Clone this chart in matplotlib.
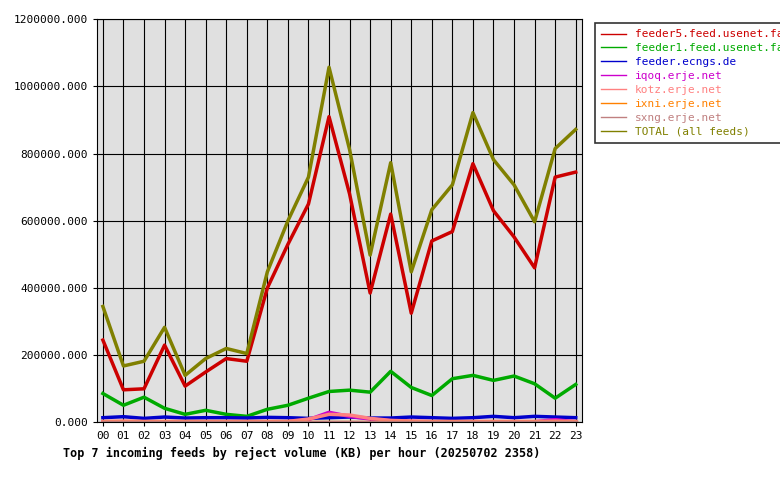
import numpy as np
import matplotlib.pyplot as plt
from matplotlib.ticker import FuncFormatter

hours = ["%02d" % h for h in range(24)]

feeder5 = [245, 97, 100, 230, 108, 150, 190, 182, 400, 530, 650, 910,
           680, 385, 620, 325, 540, 568, 770, 630, 552, 460, 730, 745]
feeder1 = [86, 51, 75, 42, 24, 36, 24, 18, 39, 51, 72, 92,
           96, 90, 152, 104, 80, 130, 140, 125, 138, 115, 72, 113]
ecngs = [14, 17, 12, 16, 13, 14, 14, 13, 15, 14, 12, 14,
         16, 13, 13, 16, 14, 12, 14, 18, 14, 18, 16, 14]
iqoq = [2, 2, 2, 2, 2, 2, 2, 2, 2, 2, 8, 30, 18, 10, 5, 3, 2, 2, 2, 2, 2, 2, 8, 2]
kotz = [3, 4, 3, 3, 3, 3, 3, 3, 3, 3, 10, 24, 22, 12, 6, 4, 3, 3, 3, 3, 3, 3, 4, 3]
ixni = [1] * 24
sxng = [2] * 24
total = [345, 168, 182, 283, 140, 190, 220, 205, 448, 600, 730, 1057,
         812, 498, 773, 448, 633, 707, 922, 782, 707, 597, 815, 872]

series = [
    ("feeder5.feed.usenet.farm", feeder5, "#cc0000"),
    ("feeder1.feed.usenet.farm", feeder1, "#00aa00"),
    ("feeder.ecngs.de", ecngs, "#0000cc"),
    ("iqoq.erje.net", iqoq, "#cc00cc"),
    ("kotz.erje.net", kotz, "#ff8080"),
    ("ixni.erje.net", ixni, "#ff8000"),
    ("sxng.erje.net", sxng, "#c08080"),
    ("TOTAL (all feeds)", total, "#808000"),
]

plt.rcParams['font.family'] = 'DejaVu Sans Mono'
fig = plt.figure(figsize=(7.8, 4.8), dpi=100)
ax = fig.add_axes([0.124, 0.12, 0.622, 0.84])
ax.set_facecolor('#e0e0e0')
x = np.arange(24)
for name, vals, col in series:
    ax.plot(x, np.array(vals) * 1000, color=col, lw=2.5, label=name)

ax.set_xlim(-0.3, 23.3)
ax.set_ylim(0, 1200000)
ax.set_xticks(x)
ax.set_xticklabels(hours, fontsize=8)
ax.set_yticks(np.arange(0, 1200001, 200000))
ax.yaxis.set_major_formatter(FuncFormatter(lambda v, p: "%.3f" % v))
ax.tick_params(labelsize=8, length=3)
ax.grid(True, color='black', lw=0.8)
ax.set_axisbelow(True)
ax.set_xlabel("Top 7 incoming feeds by reject volume (KB) per hour (20250702 2358)",
              fontsize=8.5, fontweight='bold', ha='left', x=-0.07)

leg = ax.legend(loc='upper left', bbox_to_anchor=(1.015, 1.005), fontsize=8,
                frameon=True, fancybox=False, edgecolor='black',
                handlelength=2.2, labelspacing=0.35, borderpad=0.6)
leg.get_frame().set_linewidth(1.2)
for txt, (_, _, col) in zip(leg.get_texts(), series):
    txt.set_color(col)
for line in leg.get_lines():
    line.set_linewidth(1)

fig.savefig("out.png", dpi=100)
